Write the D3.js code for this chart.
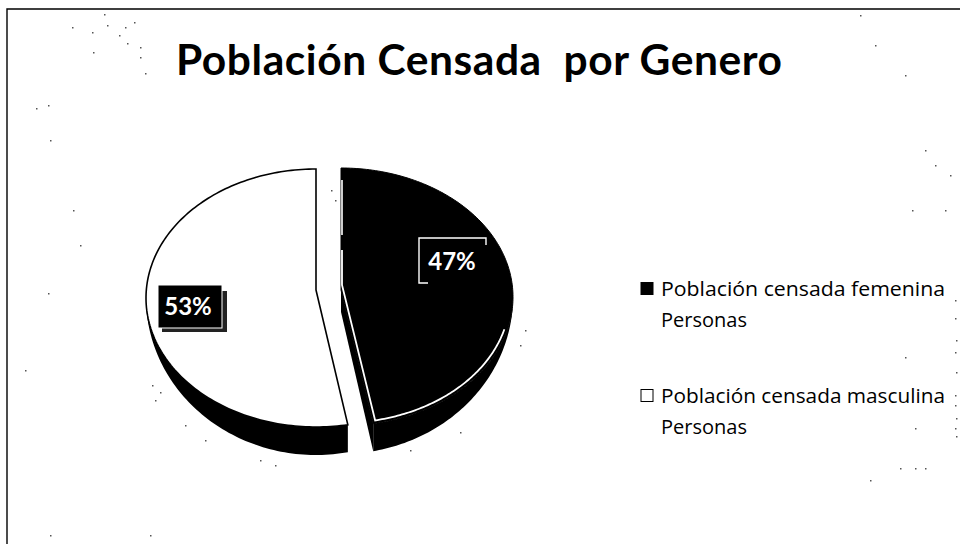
<!DOCTYPE html>
<html><head><meta charset="utf-8">
<script src="https://cdn.jsdelivr.net/npm/d3@7"></script>
<style>html,body{margin:0;background:#fff}svg{display:block}text{font-family:Lato,"Open Sans",sans-serif}</style>
</head><body><svg id="c" width="960" height="544"></svg>
<script>
const titleText = "Población Censada  por Genero";
const categories = ["Población censada femenina", "Población censada masculina"];
const subLabel = "Personas";
const values = [47, 53];
const valueLabels = ["47%", "53%"];
const specks = [[104,14],[72,27],[92,32],[107,25],[134,22],[125,27],[119,35],[127,43],[140,47],[140,57],[145,73],[93,52],[36,108],[48,105],
 [50,140],[73,210],[80,245],[48,293],[25,370],[152,385],[160,392],[155,400],[185,425],[205,440],[260,460],[275,465],[410,450],[460,432],
 [860,15],[875,45],[905,75],[925,150],[935,165],[950,175],[945,210],[912,210],[870,480],[900,468],[915,468],[925,468],[50,535],[150,535],
 [955,300],[955,318],[956,340],[955,352],[956,372],[955,395],[955,405],[956,418],[955,428],[956,436],[905,357],[915,428],[525,330],[520,345],[335,200],[331,190]];

const svg = d3.select("#c");
const pie = d3.pie().sort(null).value(d => d).startAngle(0).endAngle(2 * Math.PI);
const arcs = pie(values);
const femenina = arcs[0], masculina = arcs[1];
const full = 2 * Math.PI;

const ry = 129, drop = 28;
const geo = {
  f: {ex: 341, ey: 297, ax: 341, ay: 290, rx: 172},
  m: {ex: 316, ey: 298, ax: 316, ay: 290, rx: 170}
};
const rim = (g, t, inset = 0) => [g.ex + (g.rx - inset) * Math.sin(t), g.ey - (ry - inset) * Math.cos(t)];
const bottom = (g, t) => [g.ex + g.rx * Math.sin(t), g.ey - (ry + drop) * Math.cos(t)];
const samples = (a, b, n = 80) => d3.range(n + 1).map(i => a + (b - a) * i / n);
const line = d3.line();

const mStart = masculina.startAngle - full, mEnd = masculina.endAngle - full;
const fStart = femenina.startAngle, fEnd = femenina.endAngle;

// side walls
const wall = (g, a, b) => line([...samples(a, b).map(t => rim(g, t)), ...samples(b, a).map(t => bottom(g, t))]) + "Z";
svg.append("path").attr("d", wall(geo.m, mStart, -Math.PI / 2)).attr("fill", "#000");
svg.append("path").attr("d", wall(geo.f, Math.PI / 2, fEnd)).attr("fill", "#000");
const fe = rim(geo.f, fEnd), feb = bottom(geo.f, fEnd);
svg.append("path").attr("d", line([[geo.f.ax, geo.f.ay], fe, feb, [geo.f.ax, geo.f.ay + 22]]) + "Z").attr("fill", "#000");

// top faces
svg.append("path")
  .attr("d", line([[geo.m.ax, geo.m.ay], ...samples(mStart, mEnd, 160).map(t => rim(geo.m, t))]) + "Z")
  .attr("fill", "#fff").attr("stroke", "#000").attr("stroke-width", 1.6);
svg.append("path")
  .attr("d", line([[geo.f.ax, geo.f.ay], ...samples(fStart, fEnd, 160).map(t => rim(geo.f, t))]) + "Z")
  .attr("fill", "#000").attr("stroke", "#000");

// partial white outline of the dark slice
svg.append("path")
  .attr("d", line([[geo.f.ax + 1, 180], [geo.f.ax + 1, 235]])).attr("stroke", "#fff").attr("stroke-width", 1.6);
svg.append("path")
  .attr("d", line([[geo.f.ax + 1, 250], [geo.f.ax + 1, 285], ...samples(fEnd - 0.015, 1.83).map(t => rim(geo.f, t, 3))]))
  .attr("fill", "none").attr("stroke", "#fff").attr("stroke-width", 1.8);

// data labels
svg.append("rect").attr("x", 162).attr("y", 291).attr("width", 65).attr("height", 41).attr("fill", "#222");
svg.append("rect").attr("x", 158).attr("y", 285).attr("width", 64).attr("height", 43).attr("fill", "#000").attr("stroke", "#fff").attr("stroke-width", 1);
svg.append("text").attr("x", 188).attr("y", 315).attr("text-anchor", "middle").attr("font-size", 24).attr("font-weight", 700).attr("fill", "#fff").text(valueLabels[1]);
svg.append("path").attr("d", line([[428, 283], [419, 283], [419, 238], [486, 238], [486, 245]])).attr("fill", "none").attr("stroke", "#fff").attr("stroke-width", 1.4);
svg.append("text").attr("x", 452).attr("y", 270).attr("text-anchor", "middle").attr("font-size", 24).attr("font-weight", 700).attr("fill", "#fff").text(valueLabels[0]);

// title
svg.append("text").attr("x", 176).attr("y", 75).attr("font-size", 42.5).attr("font-weight", 700).attr("fill", "#000")
  .attr("textLength", 606).attr("lengthAdjust", "spacing").style("white-space", "pre").text(titleText);

// legend
const legendY = d3.scalePoint().domain(categories).range([296, 403]);
const legend = svg.selectAll("g.leg").data(categories).join("g").attr("class", "leg")
  .attr("transform", d => `translate(0,${legendY(d)})`);
legend.append("rect").attr("x", 641).attr("y", -13.5).attr("width", 12).attr("height", 12)
  .attr("fill", (d, i) => i === 0 ? "#000" : "#fff").attr("stroke", "#000").attr("stroke-width", 1);
legend.append("text").attr("x", 661).attr("font-size", 20).style("font-family", "'Open Sans'").attr("fill", "#000")
  .attr("textLength", 284).attr("lengthAdjust", "spacingAndGlyphs").text(d => d);
legend.append("text").attr("x", 661).attr("y", 31).attr("font-size", 20).style("font-family", "'Open Sans'").attr("fill", "#000").text(subLabel);

// scanned page border
svg.append("path").attr("d", line([[7, 544], [7, 9], [960, 9]])).attr("fill", "none").attr("stroke", "#000").attr("stroke-width", 1.4);

// scan specks
svg.selectAll("rect.sp").data(specks).join("rect").attr("class", "sp")
  .attr("x", d => d[0]).attr("y", d => d[1]).attr("width", 1.5).attr("height", 1.5).attr("fill", "#555");
</script></body></html>
